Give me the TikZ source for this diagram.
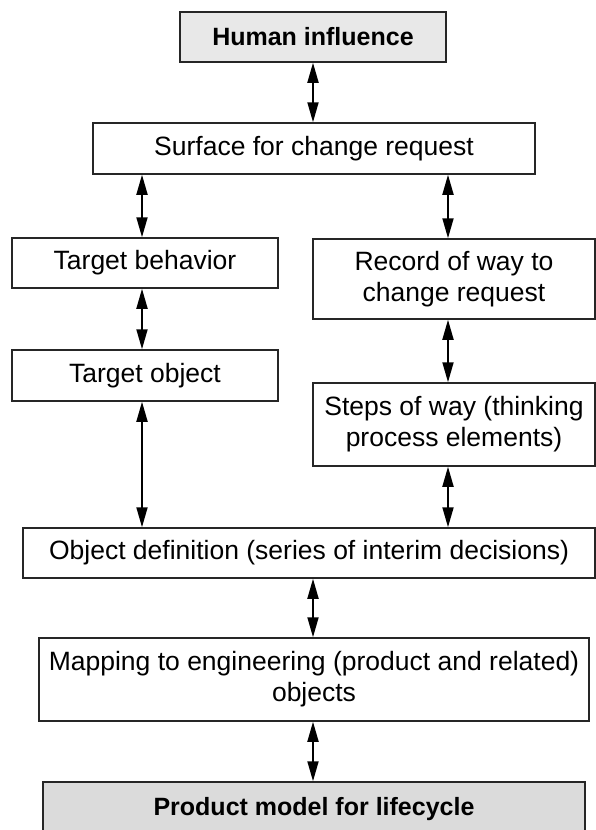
\documentclass[tikz,border=0pt]{standalone}
\usepackage{fontspec}
\setmainfont{Liberation Sans}
\usetikzlibrary{arrows.meta}
\begin{document}
\begin{tikzpicture}[x=1pt,y=-1pt,
  box/.style={draw=black!85, line width=1.5pt, fill=white, align=center,
    inner sep=0pt, font=\fontsize{26.5}{31}\selectfont},
  keybox/.style={box, font=\fontsize{25}{30}\selectfont\bfseries},
  arr/.style={line width=1.8pt,
    {Triangle[length=20pt,width=11pt]}-{Triangle[length=20pt,width=11pt]}}
]
\useasboundingbox (0,0) rectangle (596,830);
\clip (0,0) rectangle (596,830);

% column positions of the vertical connectors
\coordinate (lc) at (142,0);
\coordinate (cc) at (313,0);
\coordinate (rc) at (448,0);

\node[keybox, fill=black!9, minimum width=266pt, minimum height=50pt] (human) at (313,37) {Human influence};
\node[box, minimum width=442pt, minimum height=51pt] (surface) at (314,148.5) {Surface for change request};
\node[box, minimum width=266pt, minimum height=50pt] (tbeh) at (145,263) {Target behavior};
\node[box, minimum width=282pt, minimum height=80pt] (record) at (454,279) {Record of way to\\change request};
\node[box, minimum width=266pt, minimum height=51pt] (tobj) at (145,375.5) {Target object};
\node[box, minimum width=282pt, minimum height=83pt] (steps) at (454,424.5) {Steps of way (thinking\\process elements)};
\node[box, minimum width=572pt, minimum height=50pt] (objdef) at (309,553) {Object definition (series of interim decisions)};
\node[box, minimum width=550pt, minimum height=83pt] (mapping) at (314,679.5) {Mapping to engineering (product and related)\\objects};
\node[keybox, fill=black!14, minimum width=542pt, minimum height=54pt] (product) at (314,809) {Product model for lifecycle};

% two-way connectors
\draw[arr] (human.south -| cc) -- (surface.north -| cc);
\draw[arr] (surface.south -| lc) -- (tbeh.north -| lc);
\draw[arr] (surface.south -| rc) -- (record.north -| rc);
\draw[arr] (tbeh.south -| lc) -- (tobj.north -| lc);
\draw[arr] (record.south -| rc) -- (steps.north -| rc);
\draw[arr] (tobj.south -| lc) -- (objdef.north -| lc);
\draw[arr] (steps.south -| rc) -- (objdef.north -| rc);
\draw[arr] (objdef.south -| cc) -- (mapping.north -| cc);
\draw[arr] (mapping.south -| cc) -- (product.north -| cc);
\end{tikzpicture}
\end{document}
